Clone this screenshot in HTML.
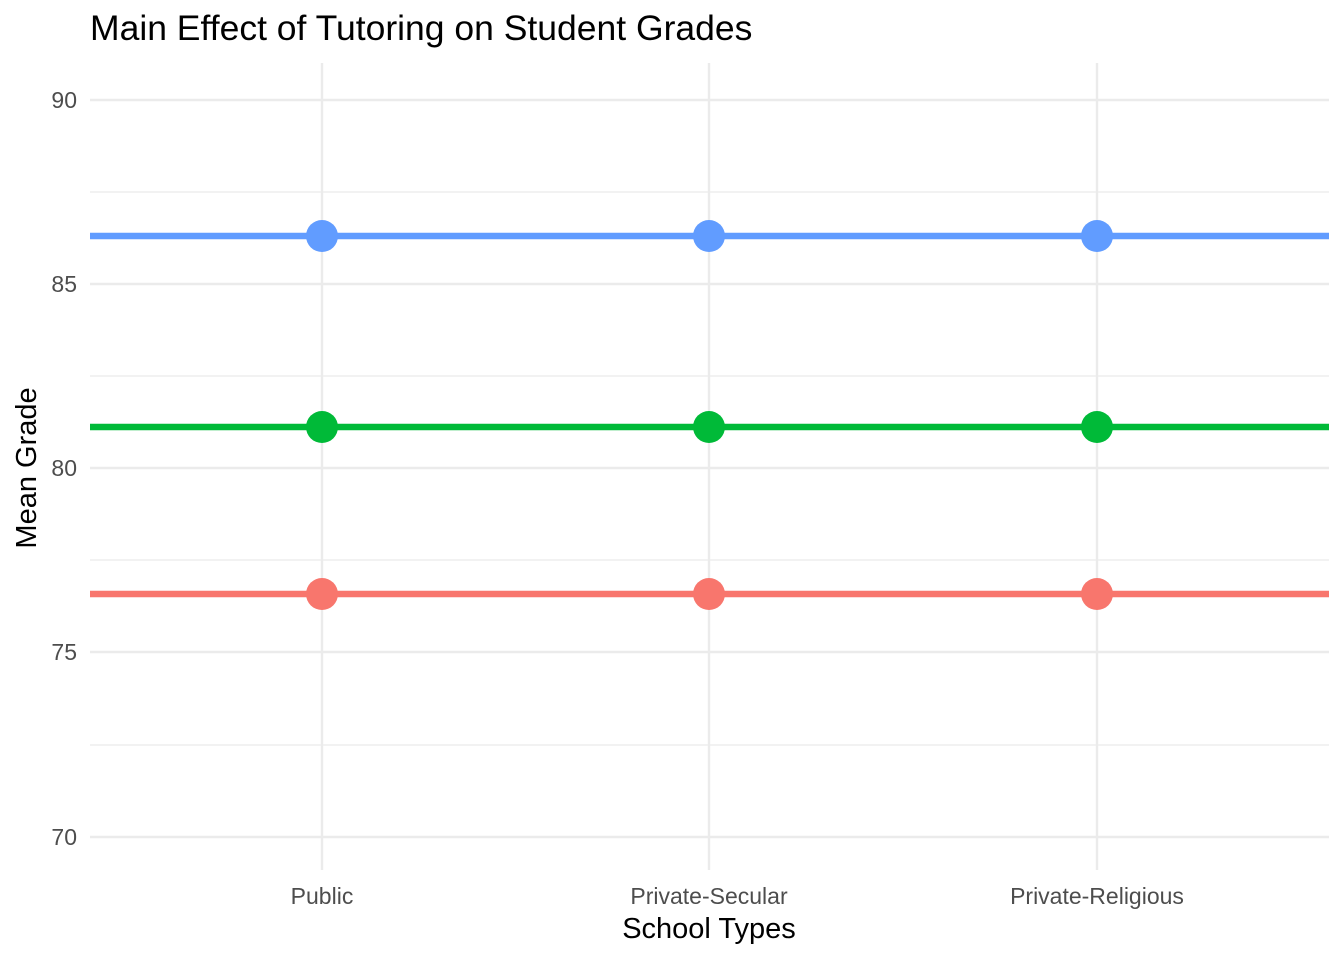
<!DOCTYPE html>
<html><head><meta charset="utf-8"><style>body{margin:0;background:#fff}</style></head>
<body>
<svg width="1344" height="960" xmlns="http://www.w3.org/2000/svg" font-family="Liberation Sans, sans-serif">
<rect width="1344" height="960" fill="#fff"/>
<g stroke="#ebebeb" stroke-width="1.2">
<line x1="90" x2="1329" y1="192" y2="192"/><line x1="90" x2="1329" y1="376" y2="376"/>
<line x1="90" x2="1329" y1="560" y2="560"/><line x1="90" x2="1329" y1="745" y2="745"/>
</g>
<g stroke="#ebebeb" stroke-width="2.4">
<line x1="90" x2="1329" y1="100" y2="100"/><line x1="90" x2="1329" y1="284" y2="284"/>
<line x1="90" x2="1329" y1="468" y2="468"/><line x1="90" x2="1329" y1="652" y2="652"/>
<line x1="90" x2="1329" y1="837" y2="837"/>
<line x1="322" x2="322" y1="63" y2="870"/><line x1="709" x2="709" y1="63" y2="870"/><line x1="1097" x2="1097" y1="63" y2="870"/>
</g>
<line x1="90" x2="1329" y1="236" y2="236" stroke="#619cff" stroke-width="6.5"/>
<line x1="90" x2="1329" y1="427" y2="427" stroke="#00ba38" stroke-width="6.5"/>
<line x1="90" x2="1329" y1="594" y2="594" stroke="#f8766d" stroke-width="6.5"/>
<g fill="#619cff"><circle cx="322" cy="236" r="16"/><circle cx="709" cy="236" r="16"/><circle cx="1097" cy="236" r="16"/></g>
<g fill="#00ba38"><circle cx="322" cy="427" r="16"/><circle cx="709" cy="427" r="16"/><circle cx="1097" cy="427" r="16"/></g>
<g fill="#f8766d"><circle cx="322" cy="594" r="16"/><circle cx="709" cy="594" r="16"/><circle cx="1097" cy="594" r="16"/></g>
<g fill="#4d4d4d" font-size="23" text-anchor="end">
<text x="77" y="108">90</text><text x="77" y="292">85</text><text x="77" y="476">80</text><text x="77" y="660">75</text><text x="77" y="845">70</text>
</g>
<g fill="#4d4d4d" font-size="23" text-anchor="middle">
<text x="322" y="904">Public</text><text x="709" y="904">Private-Secular</text><text x="1097" y="904">Private-Religious</text>
</g>
<text x="709" y="938" font-size="29" text-anchor="middle" fill="#000">School Types</text>
<text transform="translate(36,468) rotate(-90)" font-size="29" text-anchor="middle" fill="#000">Mean Grade</text>
<text x="90" y="40" font-size="35.5" fill="#000">Main Effect of Tutoring on Student Grades</text>
</svg>
</body></html>
